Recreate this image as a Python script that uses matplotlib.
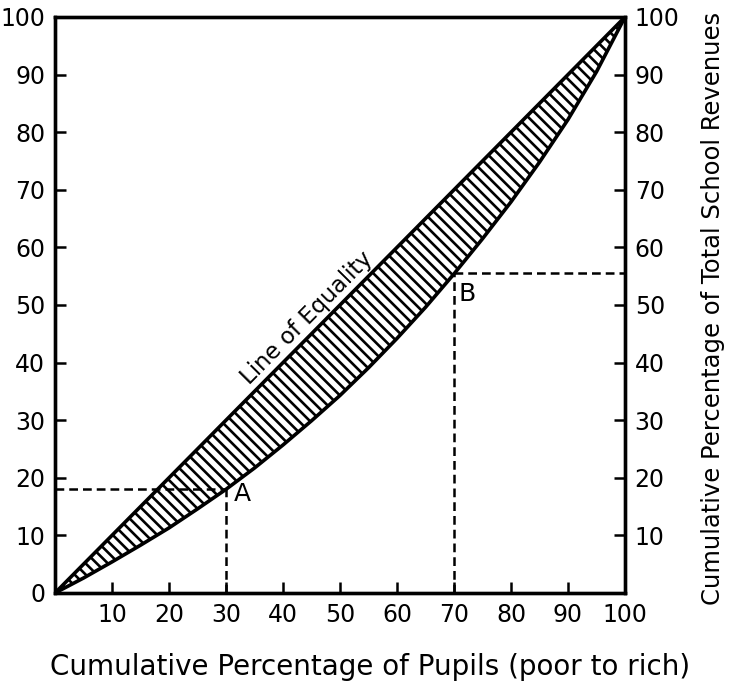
import matplotlib
matplotlib.use("Agg")
import matplotlib.pyplot as plt
import numpy as np

# Data
pupils = [0, 5, 10, 15, 20, 25, 30, 35, 40, 45, 50, 55, 60, 65, 70, 75, 80, 85, 90, 95, 100]
revenues = [0, 2.6, 5.4, 8.3, 11.3, 14.6, 18, 21.7, 25.7, 29.9, 34.3, 39.1, 44.2, 49.6, 55.4, 61.5, 67.9, 74.8, 82.2, 90.5, 100]
equality = [0, 100]
point_a = (30, 18)
point_b = (70, 55.5)
left_ticks = [0, 10, 20, 30, 40, 50, 60, 70, 80, 90, 100]
left_labels = ["0", "10", "20", "30", "40", "50", "60", "70", "80", "90", "100"]
x_ticks = [10, 20, 30, 40, 50, 60, 70, 80, 90, 100]
x_labels = ["10", "20", "30", "40", "50", "60", "70", "80", "90", "100"]
right_ticks = [10, 20, 30, 40, 50, 60, 70, 80, 90, 100]
right_labels = ["10", "20", "30", "40", "50", "60", "70", "80", "90", "100"]
xlabel = "Cumulative Percentage of Pupils (poor to rich)"
ylabel = "Cumulative Percentage of Total School Revenues"

plt.rcParams['font.family'] = ['DejaVu Sans']
plt.rcParams['hatch.linewidth'] = 1.9

fig = plt.figure(figsize=(7.31, 6.9), dpi=100)
ax = fig.add_axes([55/731, 1-593/690, 570/731, 576/690])
ax.set_xlim(0, 100)
ax.set_ylim(0, 100)

px = np.array(pupils, dtype=float)
ry = np.array(revenues, dtype=float)

ax.fill_between(px, ry, px, facecolor='white', edgecolor='black', hatch='\\\\\\', linewidth=0, zorder=1)
ax.plot(equality, equality, color='black', lw=2.6, zorder=3, solid_capstyle='round')
ax.plot(px, ry, color='black', lw=2.6, zorder=3, solid_joinstyle='round')

dash = (0, (3.5, 2))
ax.plot([0, point_a[0]], [point_a[1], point_a[1]], color='black', lw=1.8, linestyle=dash, zorder=2)
ax.plot([point_a[0], point_a[0]], [0, point_a[1]], color='black', lw=1.8, linestyle=dash, zorder=2)
ax.plot([point_b[0], 100], [point_b[1], point_b[1]], color='black', lw=1.8, linestyle=dash, zorder=2)
ax.plot([point_b[0], point_b[0]], [0, point_b[1]], color='black', lw=1.8, linestyle=dash, zorder=2)

ax.text(point_a[0] + 1.4, point_a[1] - 0.8, "A", fontsize=18, ha='left', va='center')
ax.text(point_b[0] + 0.8, point_b[1] - 3.6, "B", fontsize=18, ha='left', va='center')
ax.text(44.2, 47.7, "Line of Equality", fontsize=16.5, rotation=45.3, ha='center', va='center',
        rotation_mode='anchor')

for s in ax.spines.values():
    s.set_linewidth(2.4)

ax.set_xticks(x_ticks)
ax.set_xticklabels(x_labels, fontsize=17)
ax.set_yticks(left_ticks)
ax.set_yticklabels(left_labels, fontsize=17)
ax.tick_params(direction='in', length=8, width=1.8, pad=7)

ax2 = ax.twinx()
ax2.set_ylim(0, 100)
ax2.set_yticks(right_ticks)
ax2.set_yticklabels(right_labels, fontsize=17)
ax2.tick_params(direction='in', length=8, width=1.8, pad=7)
for s in ax2.spines.values():
    s.set_linewidth(2.4)

fig.text(370/731, 1-667/690, xlabel, fontsize=20, ha='center', va='center')
fig.text(713/731, 1-308/690, ylabel, fontsize=17.5, ha='center', va='center', rotation=90)

fig.savefig("out.png", dpi=100)
